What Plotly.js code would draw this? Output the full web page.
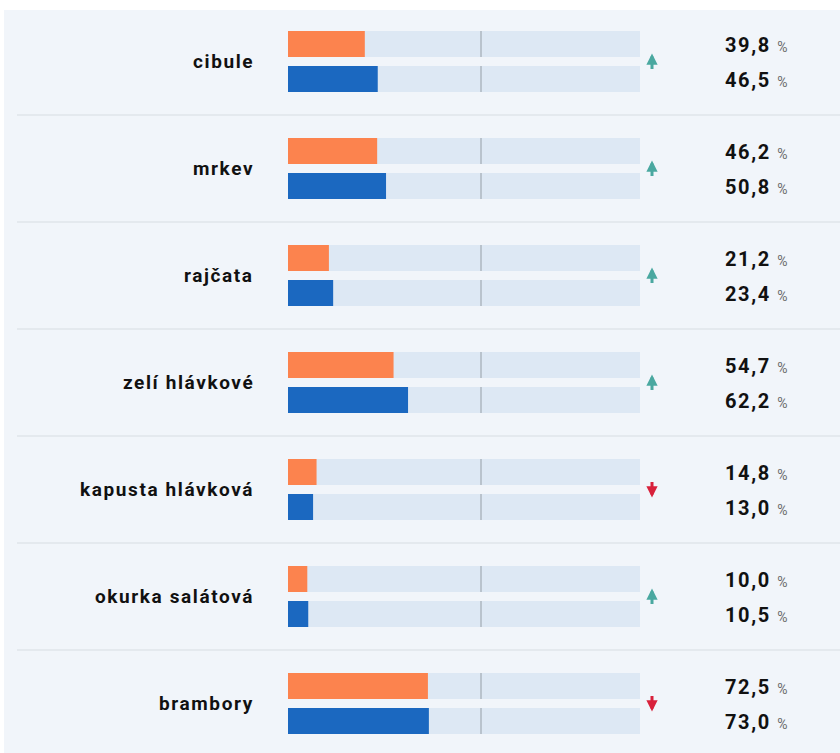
<!DOCTYPE html>
<html>
<head>
<meta charset="utf-8">
<script src="https://cdn.plot.ly/plotly-3.0.1.min.js"></script>
<style>
  html, body { margin: 0; padding: 0; background: #ffffff; }
  #chart { width: 840px; height: 753px; }
  .annotation-text { letter-spacing: 1.6px; }
</style>
</head>
<body>
<div id="chart"></div>
<script>
// ---- data ----
const categories = ['cibule', 'mrkev', 'rajčata', 'zelí hlávkové', 'kapusta hlávková', 'okurka salátová', 'brambory'];
const valuesPrev = [39.8, 46.2, 21.2, 54.7, 14.8, 10.0, 72.5];
const valuesCurr = [46.5, 50.8, 23.4, 62.2, 13.0, 10.5, 73.0];
const trend = ['up', 'up', 'up', 'up', 'down', 'up', 'down'];
const referenceValue = 100;

// ---- styling / layout constants ----
const W = 840, H = 753;
const XMAX = 182.4;
const ORANGE = '#fc834e', BLUE = '#1b68c0', TRACK = '#dde8f4';
const PANEL = '#f1f5fa', SEP = '#dfe4ea', REFLINE = '#b9c3cd';
const UP = '#4aa8a0', DOWN = '#d8213b';
const BAR_W = 0.243;          // bar thickness (category units)
const HALF_GAP = 0.1636;      // offset of bar centers from row center
const offPrev = -HALF_GAP - BAR_W / 2;
const offCurr = HALF_GAP - BAR_W / 2;
const trackFull = categories.map(() => XMAX);

function fmt(v) { return v.toFixed(1).replace('.', ','); }

const common = { type: 'bar', orientation: 'h', y: categories, width: BAR_W, hoverinfo: 'skip', showlegend: false };
const traces = [
  Object.assign({}, common, { x: trackFull, offset: offPrev, marker: { color: TRACK } }),
  Object.assign({}, common, { x: trackFull, offset: offCurr, marker: { color: TRACK } }),
  Object.assign({}, common, { x: valuesPrev, offset: offPrev, marker: { color: ORANGE } }),
  Object.assign({}, common, { x: valuesCurr, offset: offCurr, marker: { color: BLUE } })
];

const shapes = [
  { type: 'rect', xref: 'paper', yref: 'paper', x0: 4 / W, x1: 1, y0: 0, y1: 1 - 10 / H,
    fillcolor: PANEL, line: { width: 0 }, layer: 'below' }
];
categories.forEach((c, i) => {
  if (i < categories.length - 1) {
    shapes.push({ type: 'line', xref: 'paper', yref: 'y', x0: 17 / W, x1: 1, y0: i + 0.5, y1: i + 0.5,
      line: { color: SEP, width: 1.5 }, layer: 'below' });
  }
  [offPrev, offCurr].forEach(off => {
    shapes.push({ type: 'line', xref: 'x', yref: 'y', x0: referenceValue, x1: referenceValue,
      y0: i + off, y1: i + off + BAR_W, line: { color: REFLINE, width: 2 }, layer: 'above' });
  });
});

const annotations = [];
const FONT = 'Roboto, "Liberation Sans", sans-serif';
categories.forEach((c, i) => {
  annotations.push({ xref: 'paper', yref: 'y', x: 256 / W, y: i, xanchor: 'right', yanchor: 'middle',
    text: '<b>' + c + '</b>', showarrow: false, font: { family: FONT, size: 19, color: '#111111' } });
  const up = trend[i] === 'up';
  annotations.push({ xref: 'paper', yref: 'y', x: 652 / W, y: i, text: '',
    showarrow: true, arrowhead: 2, arrowsize: 0.75, arrowwidth: 3, arrowcolor: up ? UP : DOWN,
    ax: 0, ay: up ? 17 : -17, yshift: up ? 8 : -8, standoff: 0, startstandoff: 0 });
  [[valuesPrev[i], offPrev], [valuesCurr[i], offCurr]].forEach(([v, off]) => {
    annotations.push({ xref: 'paper', yref: 'y', x: 791 / W, y: i + off + BAR_W / 2, xanchor: 'right', yanchor: 'middle',
      yshift: -1,
      text: '<b>' + fmt(v) + '</b> <span style="font-size:14px;color:#6b6b6b">%</span>', showarrow: false,
      font: { family: FONT, size: 20, color: '#111111' } });
  });
});

const y0 = -61.5 / 107;
const layout = {
  width: W, height: H,
  margin: { l: 0, r: 0, t: 0, b: 0, pad: 0 },
  paper_bgcolor: '#ffffff', plot_bgcolor: 'rgba(0,0,0,0)',
  barmode: 'overlay',
  xaxis: { domain: [288 / W, 640 / W], range: [0, XMAX], visible: false, fixedrange: true },
  yaxis: { type: 'category', range: [y0 + H / 107, y0], visible: false, fixedrange: true },
  shapes: shapes,
  annotations: annotations
};

Plotly.newPlot('chart', traces, layout, { staticPlot: true, displayModeBar: false });
</script>
</body>
</html>
